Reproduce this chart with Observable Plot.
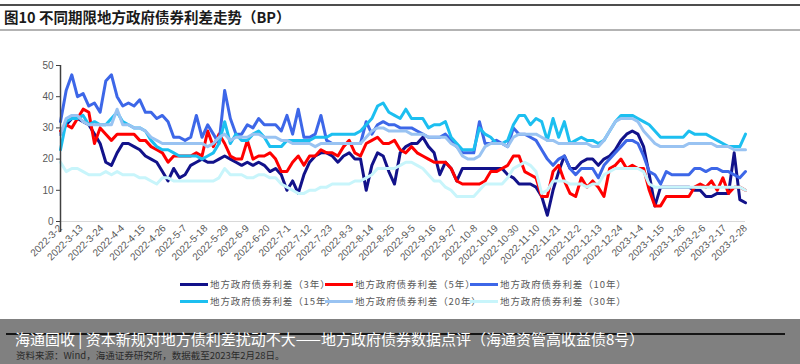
<!DOCTYPE html>
<html><head><meta charset="utf-8">
<script src="https://cdn.jsdelivr.net/npm/d3@7"></script>
<script src="https://cdn.jsdelivr.net/npm/@observablehq/plot@0.6"></script>
<style>
html,body{margin:0;padding:0;background:#fff;}
#page{position:relative;width:800px;height:364px;overflow:hidden;font-family:"Noto Sans CJK SC","Noto Sans",sans-serif;}
.rule{position:absolute;left:0;width:800px;}
#title{position:absolute;left:4px;top:6px;font-size:14.5px;font-weight:700;color:#1a1a1a;white-space:nowrap;}
#chart{position:absolute;left:0;top:40px;}
#legend{position:absolute;left:0;top:0;width:800px;height:0;}
.item{position:absolute;display:flex;align-items:center;font-size:9.5px;color:#595959;white-space:nowrap;letter-spacing:0.9px;}
.sw{display:inline-block;width:28px;height:3px;margin-right:2px;}
#footer{position:absolute;left:0;top:319px;width:800px;height:45px;background:#808080;}
</style></head><body>
<div id="page">
  <div class="rule" style="top:4px;height:2px;background:#4d4d4d"></div>
  <div id="title">图10 不同期限地方政府债券利差走势（BP）</div>
  <div class="rule" style="top:29px;height:2px;background:#b3b3b3"></div>
  <div id="chart"></div>
  <div id="legend"></div>
  <div id="footer">
    <div style="position:absolute;left:6px;top:14px;width:779px;height:1.5px;background:#151515"></div>
    <div id="source" style="position:absolute;left:16px;top:31px;font-size:9.5px;line-height:11px;color:#2a2a2a;white-space:nowrap">资料来源：Wind，海通证券研究所，数据截至2023年2月28日。</div>
    <div id="foot" style="position:absolute;left:15px;top:10px;font-size:15px;line-height:20px;color:#fff;white-space:nowrap">海通固收 | 资本新规对地方债利差扰动不大——地方政府债券数据点评（海通资管高收益债8号）</div>
  </div>
</div>
<script>
// sampling grid: every 3 calendar days starting 2022-03-02
const startDate = "2022-03-02";
const endDate = "2023-02-28";
const stepDays = 3;

const seriesNames = ["地方政府债券利差（3年）","地方政府债券利差（5年）","地方政府债券利差（10年）",
                     "地方政府债券利差（15年）","地方政府债券利差（20年）","地方政府债券利差（30年）"];

const spread3y = [28,31,33,33,32,31,28,25,19,18, 22,25,25,24,23,21,20,19,16,13, 17,14,15,18,19,20,19,19,20,21, 20,
  19,18,19,18,19,18,16,17,15,10, 13,9,15,19,21,22,22,21,19,21, 22,20,20,10,18,22,21,16,12,22,
  24,25,25,27,24,22,15,19,17,13, 17,17,17,17,17,17,17,17,15,14, 12,12,12,11,8,2,10,16,21,17,
  17,19,20,20,18,20,21,23,26,28, 29,28,24,15,5,11,11,11,11,11, 11,10,10,8,8,9,9,9,22,7, 6];

const spread5y = [29,31,30,33,36,35,25,30,28,26, 28,28,28,28,26,26,24,23,22,19, 21,21,21,21,22,21,29,24,28,25, 21,
  20,20,26,20,21,21,22,20,16,16, 19,21,18,21,21,23,22,22,21,24, 26,22,21,25,26,27,25,25,26,23,
  22,24,22,21,20,19,19,19,17,13, 12,12,12,12,13,16,16,17,18,21, 21,16,15,14,8,8,16,18,13,9,
  8,14,11,13,11,8,17,18,20,17, 18,17,17,10,5,5,8,8,8,8, 8,11,12,11,13,10,14,9,11,11, 10];

const spread10y = [32,42,47,40,41,37,38,35,45,47, 40,37,38,37,39,35,35,33,34,32, 27,27,26,27,34,27,31,28,25,42, 33,
  28,28,31,30,33,31,31,31,29,34, 28,36,27,27,28,34,26,25,25,25, 25,25,25,32,28,31,32,31,31,30,
  30,30,29,28,27,27,27,28,26,24, 22,22,22,32,25,25,26,25,24,30, 28,28,27,26,23,20,18,20,21,17,
  15,17,17,17,14,18,20,22,24,26, 26,25,21,16,15,12,16,15,15,15, 15,17,17,16,17,17,16,16,15,14, 16];

const spread15y = [23,32,33,33,34,31,32,31,31,33, 35,32,31,30,30,29,26,24,23,23, 22,21,21,21,21,20,21,22,25,32, 25,
  28,26,26,28,29,27,24,24,24,26, 26,26,26,26,27,27,27,28,28,28, 28,28,29,31,33,37,38,35,34,33,
  36,33,33,33,30,31,31,32,27,25, 23,23,23,30,28,27,25,25,26,31, 34,34,31,33,32,26,33,27,32,25,
  26,27,26,26,25,26,29,32,34,34, 34,33,32,31,29,27,27,27,27,27, 29,28,28,28,27,26,25,24,24,24, 28];

const spread20y = [28,33,34,34,32,31,31,31,31,31, 36,31,31,30,30,29,27,26,25,25, 25,25,25,25,25,25,24,25,27,28, 26,
  27,27,27,28,28,27,27,27,26,26, 25,25,25,25,24,25,25,25,25,25, 25,25,25,27,29,30,30,29,29,29,
  29,28,28,28,27,27,27,27,25,24, 21,20,20,21,24,25,25,25,24,27, 28,28,28,28,27,26,26,25,25,25,
  25,25,25,24,24,26,29,32,33,33, 33,32,29,27,25,24,24,24,24,24, 25,25,25,25,25,24,24,24,23,23, 23];

const spread30y = [19,16,17,17,16,15,15,15,16,15, 16,15,15,15,14,14,13,12,14,14, 13,13,13,13,13,13,13,13,14,17, 15,
  15,15,14,14,15,15,14,14,12,11, 10,9,9,10,10,11,11,12,12,12, 12,13,13,14,15,17,17,17,17,18,
  19,19,18,17,15,13,13,11,10,8, 8,8,8,10,12,12,12,12,14,17, 18,19,18,16,9,10,13,13,13,12,
  12,12,11,12,12,15,16,17,17,17, 17,17,16,12,11,11,11,11,11,11, 11,11,11,11,11,11,11,11,11,11, 10];

const seriesColors = ["#12128a","#ff0000","#3d67e8","#1cbff0","#99c3f2","#c8f5fb"];

const tickLabels = ["2022-3-2","2022-3-13","2022-3-24","2022-4-4","2022-4-15","2022-4-26","2022-5-7",
  "2022-5-18","2022-5-29","2022-6-9","2022-6-20","2022-7-1","2022-7-12","2022-7-23","2022-8-3",
  "2022-8-14","2022-8-25","2022-9-5","2022-9-16","2022-9-27","2022-10-8","2022-10-19","2022-10-30",
  "2022-11-10","2022-11-21","2022-12-2","2022-12-13","2022-12-24","2023-1-4","2023-1-15","2023-1-26",
  "2023-2-6","2023-2-17","2023-2-28"];

const yTicks = [0,10,20,30,40,50];

const parse = d3.utcParse("%Y-%m-%d");
const d0 = parse(startDate), dEnd = parse(endDate);
const allSeries = [spread3y, spread5y, spread10y, spread15y, spread20y, spread30y];
const tickDates = tickLabels.map(parse);
const fmt = d => `${d.getUTCFullYear()}-${d.getUTCMonth()+1}-${d.getUTCDate()}`;

const rows = allSeries.map((arr, k) => arr.map((v, i) => ({
  date: d3.utcDay.offset(d0, i * stepDays), value: v, series: seriesNames[k]
})));

const chart = Plot.plot({
  width: 800, height: 226,
  marginLeft: 60, marginRight: 55, marginTop: 25, marginBottom: 45,
  style: {fontFamily: "'Liberation Sans', Arial, sans-serif", fontSize: "10px", color: "#595959", background: "transparent"},
  x: {type: "utc", domain: [d0, dEnd]},
  y: {domain: [0, 50]},
  marks: [
    Plot.ruleY([0], {stroke: "#d9d9d9", strokeWidth: 1}),
    Plot.axisY({ticks: yTicks, tickSize: 4, tickPadding: 3, stroke: "#404040", fill: "#595959", label: null}),
    Plot.axisX({ticks: tickDates, tickFormat: fmt, tickRotate: -45, tickSize: 0, tickPadding: 5, fill: "#595959", label: null}),
    ...rows.map((r, k) => Plot.line(r, {x: "date", y: "value", stroke: seriesColors[k], strokeWidth: 3, strokeLinejoin: "round", strokeLinecap: "round"})),
    Plot.ruleX([d0], {y1: -3.5, y2: 50, stroke: "#404040", strokeWidth: 1.5})
  ]
});
document.getElementById("chart").appendChild(chart);

// legend
const legend = document.getElementById("legend");
const lx = [180, 325, 470], ly = [277, 294];
seriesNames.forEach((name, k) => {
  const it = document.createElement("div");
  it.className = "item";
  it.style.left = lx[k % 3] + "px";
  it.style.top = ly[Math.floor(k / 3)] + "px";
  const sw = document.createElement("span");
  sw.className = "sw"; sw.style.background = seriesColors[k];
  const tx = document.createElement("span");
  tx.textContent = name;
  it.appendChild(sw); it.appendChild(tx);
  legend.appendChild(it);
});
</script>
</body></html>
